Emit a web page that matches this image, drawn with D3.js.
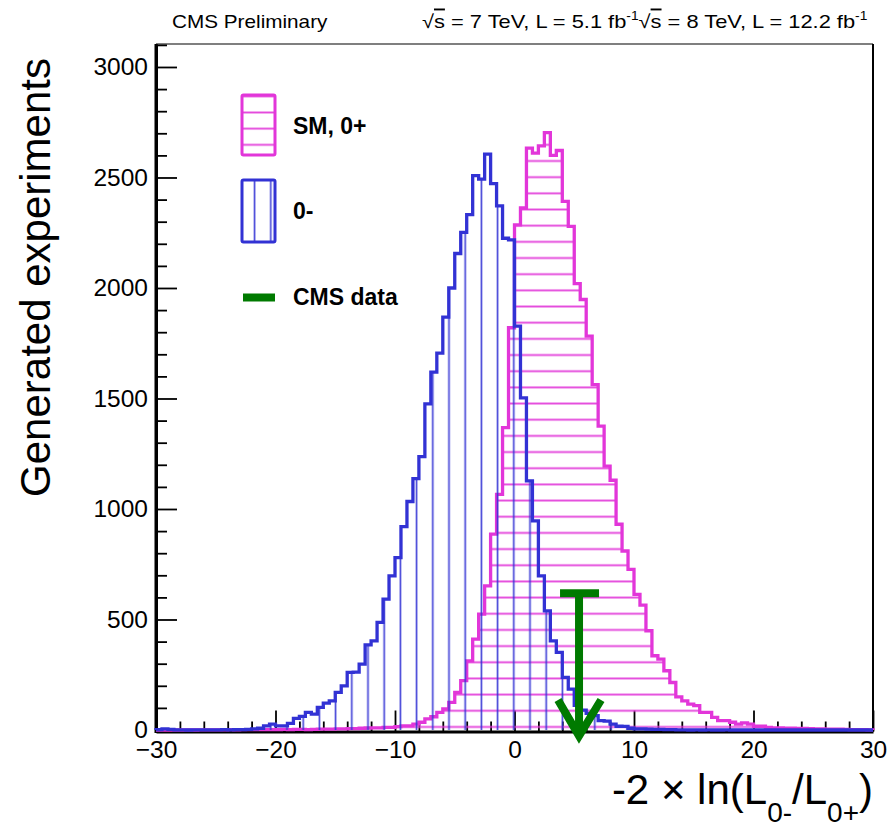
<!DOCTYPE html>
<html><head><meta charset="utf-8">
<script src="https://cdn.jsdelivr.net/npm/d3@7"></script>
<style>
body{margin:0;background:#fff}
svg{display:block}
text{font-family:"Liberation Sans",Arial,Helvetica,sans-serif}
</style>
</head><body>
<svg id="c" width="891" height="834"></svg>
<script>
// ---------------- DATA ----------------
const histRange = [-30, 30];
const nBins = 120;   // bin width 0.5
// counts per bin, from -30 to +30
const countsPseudoscalar = [ // 0-
  2,5,3,1,1,0,1,1,1,1,
  1,2,1,2,2,3,5,8,19,27,
  19,19,30,53,62,80,72,102,122,132,
  170,200,261,262,298,385,403,487,592,697,
  780,920,1034,1137,1237,1476,1619,1705,1868,2000,
  2156,2252,2332,2508,2493,2606,2472,2372,2225,2218,
  1827,1503,1127,946,697,539,403,351,238,185,
  112,90,75,65,42,40,27,17,16,8,
  5,5,4,3,3,2,2,1,1,0,
  1,0,1,0,0,1,0,0,0,0,
  0,0,0,0,0,0,0,0,0,0,
  0,0,0,0,0,0,0,0,0,0
];
const countsSM = [ // SM, 0+
  0,0,0,0,0,0,0,1,1,1,
  1,1,2,1,2,2,2,2,2,2,
  2,3,2,3,3,2,3,4,4,4,
  5,5,6,6,8,9,10,10,12,12,
  15,19,19,27,35,50,60,80,95,125,
  170,223,313,411,524,652,886,1066,1368,1820,
  2286,2362,2633,2610,2643,2703,2600,2622,2392,2279,
  2020,1948,1782,1563,1375,1194,1130,931,810,727,
  614,565,449,336,321,268,215,150,132,117,
  110,80,80,57,42,42,35,27,32,27,
  17,17,12,10,9,8,8,7,7,6,
  5,5,4,4,4,3,2,2,2,1
];
const cmsData = {value: 5.4, markerTop: 619};
const xTicks = [-30,-20,-10,0,10,20,30];
const xMinorTicks = [-28,-26,-24,-22,-18,-16,-14,-12,-8,-6,-4,-2,2,4,6,8,12,14,16,18,22,24,26,28];
const yTicks = [0,500,1000,1500,2000,2500,3000];
const yMinorTicks = [100,200,300,400,600,700,800,900,1100,1200,1300,1400,1600,1700,1800,1900,
                     2100,2200,2300,2400,2600,2700,2800,2900,3100];
const yMax = 3104;
const legendItems = ["SM, 0+", "0-", "CMS data"];

// ---------------- LAYOUT ----------------
const W = 891, H = 834;
const L = 156, R = 873, T = 44, B = 730;
const pinkCol = "#e236d9", blueCol = "#3232d4", greenCol = "#007a00";

const svg = d3.select("#c");
svg.append("rect").attr("width", W).attr("height", H).attr("fill", "#fff");

const x = d3.scaleLinear().domain(histRange).range([L, R]);
const y = d3.scaleLinear().domain([0, yMax]).range([B, T]);
const bw = (histRange[1] - histRange[0]) / nBins;

// patterns
const defs = svg.append("defs");
const pp = defs.append("pattern").attr("id", "hatchPink").attr("patternUnits", "userSpaceOnUse")
  .attr("x", 0).attr("y", 161 - 8.085).attr("width", 50).attr("height", 16.17);
pp.append("line").attr("x1", -1).attr("x2", 51).attr("y1", 8.085).attr("y2", 8.085)
  .attr("stroke", pinkCol).attr("stroke-width", 1.7).attr("stroke-opacity", 0.9);
const bp = defs.append("pattern").attr("id", "hatchBlue").attr("patternUnits", "userSpaceOnUse")
  .attr("x", 449 - 8.1).attr("y", 0).attr("width", 16.2).attr("height", 50);
bp.append("line").attr("y1", -1).attr("y2", 51).attr("x1", 8.1).attr("x2", 8.1)
  .attr("stroke", blueCol).attr("stroke-width", 1.7).attr("stroke-opacity", 0.9);

// axes
const gx = svg.append("g").attr("transform", `translate(0,${B + 1.5})`);
gx.call(d3.axisBottom(x).tickValues(xTicks).tickSizeInner(-21).tickSizeOuter(0).tickPadding(9).tickFormat(d3.format("d")));
const gxm = svg.append("g").attr("transform", `translate(0,${B + 1.5})`);
gxm.call(d3.axisBottom(x).tickValues(xMinorTicks).tickSizeInner(-10).tickSizeOuter(0).tickFormat(""));
gxm.select(".domain").remove();
const gy = svg.append("g").attr("transform", `translate(${L},0)`);
gy.call(d3.axisLeft(y).tickValues(yTicks).tickSizeInner(-21).tickSizeOuter(0).tickPadding(8).tickFormat(d3.format("d")));
const gym = svg.append("g").attr("transform", `translate(${L},0)`);
gym.call(d3.axisLeft(y).tickValues(yMinorTicks).tickSizeInner(-11).tickSizeOuter(0).tickFormat(""));
gym.select(".domain").remove();
svg.selectAll(".tick line").attr("stroke", "#000").attr("stroke-width", 1.8);
svg.selectAll(".domain").attr("stroke", "#000").attr("stroke-width", 3);
svg.selectAll(".tick text").attr("font-size", 24.5).attr("fill", "#000")
  .style("font-family", '"Liberation Sans",Arial,sans-serif');
// frame right & top
svg.append("line").attr("x1", R).attr("x2", R).attr("y1", T).attr("y2", B + 1.5).attr("stroke", "#000").attr("stroke-width", 2);
svg.append("line").attr("x1", L).attr("x2", R).attr("y1", T).attr("y2", T).attr("stroke", "#000").attr("stroke-width", 1.2);
// left axis to top
svg.append("line").attr("x1", L).attr("x2", L).attr("y1", T).attr("y2", B + 3).attr("stroke", "#000").attr("stroke-width", 3);

// histograms
function stepPoints(counts) {
  const pts = [[x(histRange[0]), y(0)]];
  counts.forEach((c, i) => {
    const lo = histRange[0] + i * bw, hi = lo + bw;
    pts.push([x(lo), y(c)], [x(hi), y(c)]);
  });
  pts.push([x(histRange[1]), y(0)]);
  return pts;
}
const line = d3.line();
function drawHist(counts, col, pat) {
  const pts = stepPoints(counts);
  svg.append("path").attr("d", line(pts) + "Z").attr("fill", `url(#${pat})`).attr("stroke", "none");
  svg.append("path").attr("d", line(pts)).attr("fill", "none").attr("stroke", col)
    .attr("stroke-width", 3.3).attr("stroke-linejoin", "miter");
}
drawHist(countsSM, pinkCol, "hatchPink");
drawHist(countsPseudoscalar, blueCol, "hatchBlue");

// CMS data arrow
const ax = x(cmsData.value), aTop = y(cmsData.markerTop), aTip = y(0) + 8;
const ga = svg.append("g").attr("stroke", greenCol).attr("fill", "none").attr("stroke-width", 8);
ga.append("line").attr("x1", ax - 19).attr("x2", ax + 20).attr("y1", aTop).attr("y2", aTop);
ga.append("line").attr("x1", ax).attr("x2", ax).attr("y1", aTop).attr("y2", aTip - 4);
ga.append("path").attr("d", `M${ax - 21},${aTip - 38}L${ax},${aTip - 2}L${ax + 22},${aTip - 38}`).attr("stroke-linejoin", "miter");

// legend
const lg = svg.append("g");
lg.append("rect").attr("x", 242).attr("y", 95).attr("width", 33).attr("height", 60)
  .attr("fill", "url(#hatchPink)").attr("stroke", pinkCol).attr("stroke-width", 3).attr("rx", 1.5);
lg.append("rect").attr("x", 242).attr("y", 180).attr("width", 33).attr("height", 62)
  .attr("fill", "url(#hatchBlue)").attr("stroke", blueCol).attr("stroke-width", 3).attr("rx", 1.5);
lg.append("line").attr("x1", 243).attr("x2", 275).attr("y1", 297.5).attr("y2", 297.5)
  .attr("stroke", greenCol).attr("stroke-width", 8);
const legY = [134, 219, 305];
legendItems.forEach((t, i) => {
  lg.append("text").attr("x", 293).attr("y", legY[i]).attr("font-size", 23).attr("font-weight", "bold")
    .attr("fill", "#000").text(t);
});

// axis titles
svg.append("text").attr("transform", "translate(50,58) rotate(-90)").attr("text-anchor", "end")
  .attr("font-size", 42).attr("fill", "#000").text("Generated experiments");
const xt = svg.append("text").attr("x", R).attr("y", 804).attr("text-anchor", "end")
  .attr("font-size", 42).attr("fill", "#000");
xt.append("tspan").text("-2 × ln(L");
xt.append("tspan").attr("font-size", 28).attr("dy", 18).text("0-");
xt.append("tspan").attr("dy", -18).text("/L");
xt.append("tspan").attr("font-size", 28).attr("dy", 18).text("0+");
xt.append("tspan").attr("dy", -18).text(")");

// header
function fitText(sel, x0, width) {
  const bb = sel.node().getBBox();
  const s = width / bb.width;
  sel.attr("transform", `translate(${x0},0) scale(${s},1) translate(${-x0},0)`);
}
const h1 = svg.append("text").attr("x", 172).attr("y", 28).attr("font-size", 19).attr("fill", "#000").text("CMS Preliminary");
fitText(h1, 172, 156);
const h2 = svg.append("text").attr("x", 422).attr("y", 28).attr("font-size", 19).attr("fill", "#000");
h2.append("tspan").text("√");
h2.append("tspan").style("text-decoration", "overline").text("s");
h2.append("tspan").text(" = 7 TeV, L = 5.1 fb");
h2.append("tspan").attr("font-size", 12).attr("dy", -8).text("-1");
h2.append("tspan").attr("dy", 8).text("√");
h2.append("tspan").style("text-decoration", "overline").text("s");
h2.append("tspan").text(" = 8 TeV, L = 12.2 fb");
h2.append("tspan").attr("font-size", 12).attr("dy", -8).text("-1");
fitText(h2, 422, 446);
</script>
</body></html>
